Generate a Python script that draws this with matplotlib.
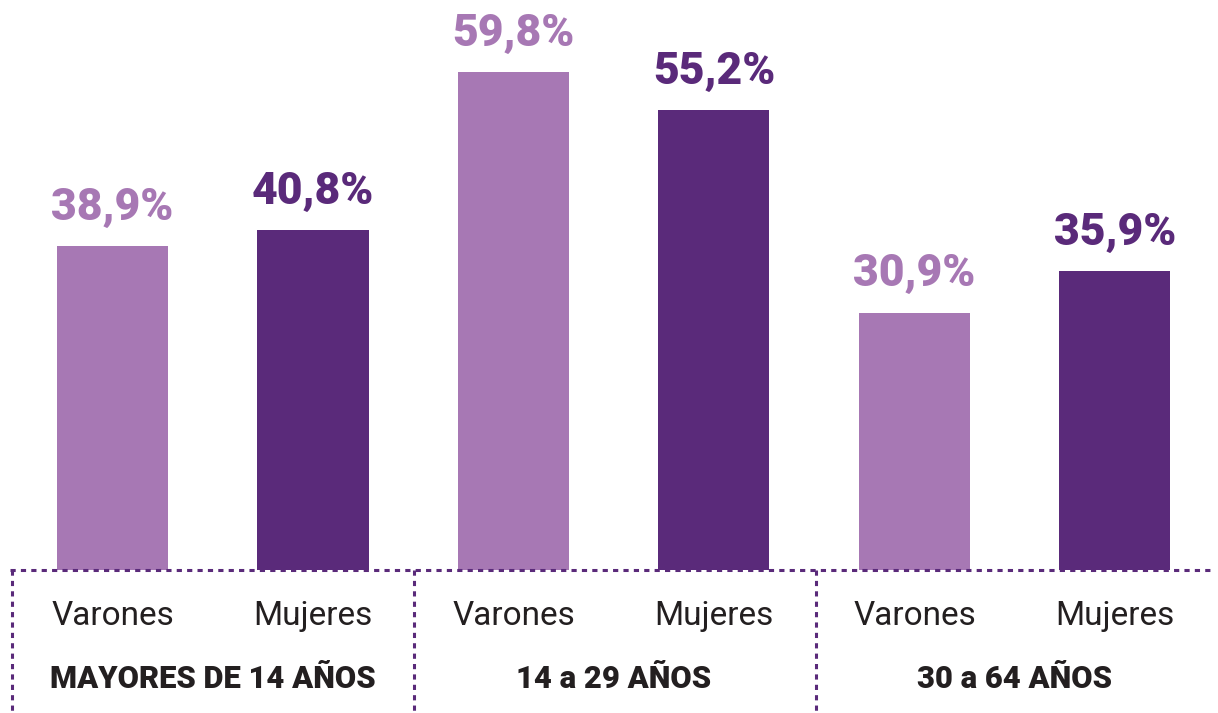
import matplotlib
matplotlib.use("Agg")
import matplotlib.pyplot as plt

groups = ["MAYORES DE 14 AÑOS", "14 a 29 AÑOS", "30 a 64 AÑOS"]
sexes = ["Varones", "Mujeres"]
values = [38.9, 40.8, 59.8, 55.2, 30.9, 35.9]
labels = ["38,9%", "40,8%", "59,8%", "55,2%", "30,9%", "35,9%"]

light = "#A778B4"
dark = "#5A2A7A"
txt = "#231F20"
colors = [light, dark] * len(groups)

plt.rcParams['font.family'] = ['Roboto', 'DejaVu Sans']

fig = plt.figure(figsize=(12.18, 7.13), dpi=100)
ax = fig.add_axes([0, 0, 1, 1])
ax.set_xlim(-0.561, 5.514)
ax.set_ylim(-17.17, 68.43)
ax.axis('off')

xs = list(range(len(values)))
bars = ax.bar(xs, values, width=0.554, color=colors, zorder=2)

for x, v, lab, c in zip(xs, values, labels, colors):
    ax.annotate(lab, (x, v), xytext=(0, 19), textcoords='offset points',
                ha='center', va='baseline', fontsize=32, fontweight='black', color=c)

for x in xs:
    ax.text(x, -6.6, sexes[x % 2], ha='center', va='baseline', fontsize=24, color=txt)

for g, name in enumerate(groups):
    ax.text(2 * g + 0.5, -14.2, name, ha='center', va='baseline', fontsize=22.3,
            fontweight='black', color=txt)

ls = (0, (1.7, 1.7))
ax.plot([-0.511, 5.489], [0, 0], color=dark, lw=2.2, linestyle=ls, zorder=3)
for g in range(len(groups)):
    ax.plot([2 * g - 0.5 + 0.004 * g] * 2, [0, -17.17], color=dark, lw=2.2,
            linestyle=ls, zorder=3)

fig.savefig("out.png", dpi=100)
